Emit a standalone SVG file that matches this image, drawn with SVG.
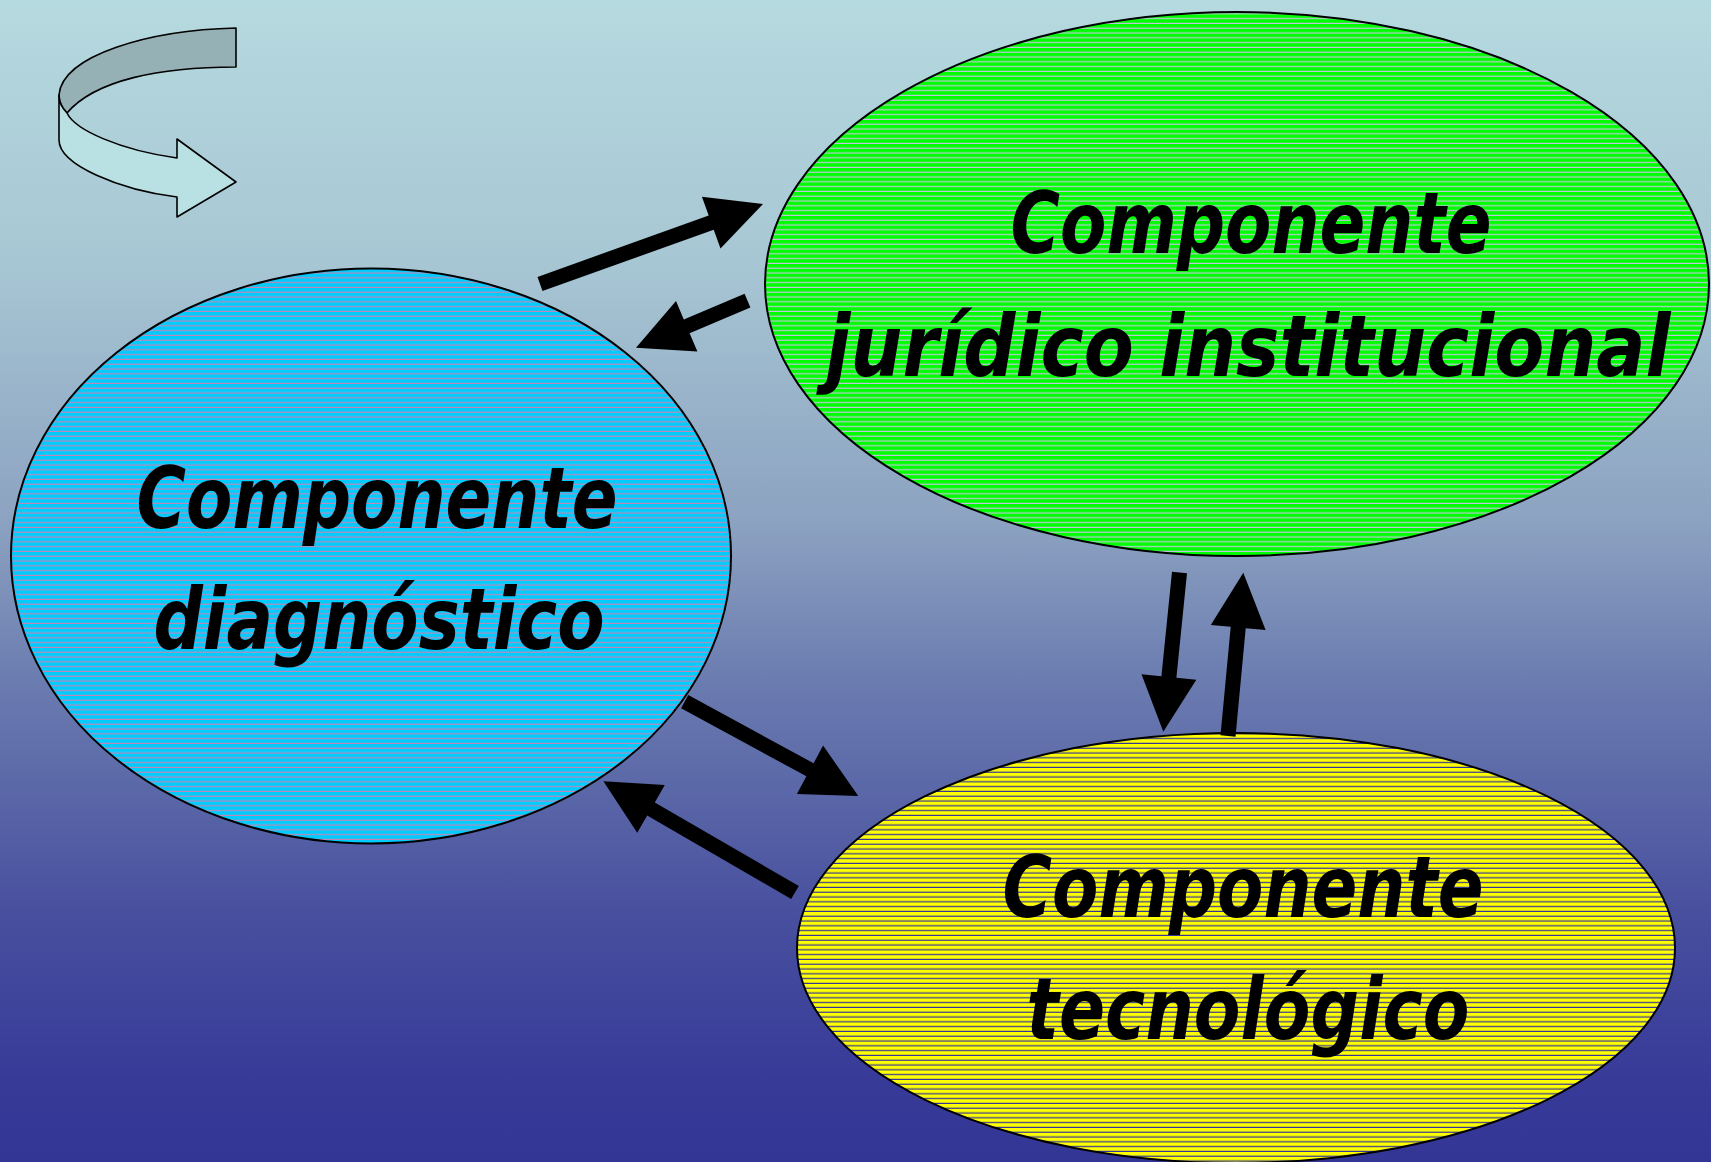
<svg xmlns="http://www.w3.org/2000/svg" width="1711" height="1162" viewBox="0 0 1711 1162">
<defs>
<linearGradient id="bg" x1="0" y1="0" x2="0" y2="1">
<stop offset="0" stop-color="#B5DADF"/>
<stop offset="0.22" stop-color="#A8C7D4"/>
<stop offset="0.45" stop-color="#8CA2C1"/>
<stop offset="0.585" stop-color="#6B7CB0"/>
<stop offset="0.79" stop-color="#474F9E"/>
<stop offset="0.93" stop-color="#383A98"/>
<stop offset="1" stop-color="#343696"/>
</linearGradient>
<pattern id="pBlue" width="20" height="4.8" patternUnits="userSpaceOnUse">
<rect width="20" height="4.8" fill="#00CCFF"/>
<rect y="3.6" width="20" height="1.2" fill="#C088B8"/>
</pattern>
<pattern id="pGreen" width="20" height="4.8" patternUnits="userSpaceOnUse">
<rect width="20" height="4.8" fill="#00FF00"/>
<rect y="3.6" width="20" height="1.2" fill="#C4C4E0"/>
</pattern>
<pattern id="pYellow" width="20" height="4.8" patternUnits="userSpaceOnUse">
<rect width="20" height="4.8" fill="#FFFF00"/>
<rect y="3.6" width="20" height="1.2" fill="#33339A"/>
</pattern>
</defs>
<style>
.node{stroke:#000;stroke-width:2}
.lbl{font-family:"DejaVu Sans","Liberation Sans",sans-serif;font-weight:bold;font-style:italic;font-size:86px;fill:#000;text-anchor:middle}
.arr{fill:#000;stroke:none}
.icon{stroke:#000;stroke-width:1.6;stroke-linejoin:round}
</style>
<rect width="1711" height="1162" fill="url(#bg)"/>
<g id="curved-arrow-icon">
<path class="icon" fill="#95B1B5" d="M236,28 C150,30 62,55 59,95 C59,103 62,108 67,113 C95,80 160,67 236,67 Z"/>
<path class="icon" fill="#B9E1E3" d="M59,95 L59,140 C59,165 120,190 177,197 L177,217 L236,182 L177,139 L177,158 C120,150 75,130 67,113 C62,108 59,103 59,95 Z"/>
</g>
<g id="node-diagnostico">
<ellipse class="node" cx="371" cy="556" rx="360" ry="287.5" fill="url(#pBlue)"/>
<text class="lbl" x="377" y="528" textLength="481" lengthAdjust="spacingAndGlyphs">Componente</text>
<text class="lbl" x="379" y="649" textLength="451" lengthAdjust="spacingAndGlyphs">diagnóstico</text>
</g>
<g id="node-juridico">
<ellipse class="node" cx="1237" cy="284" rx="472" ry="272" fill="url(#pGreen)"/>
<text class="lbl" x="1251" y="253" textLength="481" lengthAdjust="spacingAndGlyphs">Componente</text>
<text class="lbl" x="1248" y="376" textLength="845" lengthAdjust="spacingAndGlyphs">jurídico institucional</text>
</g>
<g id="node-tecnologico">
<ellipse class="node" cx="1236" cy="948" rx="439" ry="215" fill="url(#pYellow)"/>
<text class="lbl" x="1243" y="917" textLength="481" lengthAdjust="spacingAndGlyphs">Componente</text>
<text class="lbl" x="1248" y="1039" textLength="443" lengthAdjust="spacingAndGlyphs">tecnológico</text>
</g>
<g id="connectors">
<polygon class="arr" points="542.5,291.1 713.7,229.7 720.5,248.5 763,204 701.9,196.7 708.7,215.5 537.5,276.9"/>
<polygon class="arr" points="744.6,293.8 683.8,319.4 676.0,301.0 636,347.7 697.4,351.6 689.6,333.2 750.4,307.6"/>
<polygon class="arr" points="1172.0,571.7 1161.4,676.2 1141.5,674.2 1163.3,731.7 1196.3,679.8 1176.4,677.8 1187.0,573.3"/>
<polygon class="arr" points="1235.5,736.7 1245.7,628.2 1265.6,630.1 1243.3,572.7 1210.8,624.9 1230.7,626.8 1220.5,735.3"/>
<polygon class="arr" points="681.1,708.3 806.4,776.3 796.9,793.9 858.3,796 823.1,745.6 813.6,763.2 688.3,695.1"/>
<polygon class="arr" points="798.8,886.0 654.8,802.4 664.8,785.1 603.4,781.3 637.2,832.7 647.2,815.4 791.2,899.0"/>
</g>
</svg>
